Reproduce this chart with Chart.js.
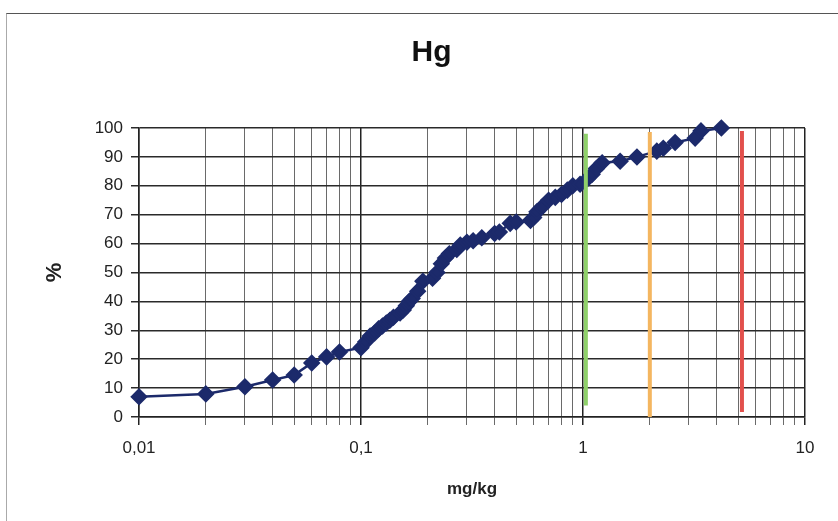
<!DOCTYPE html>
<html>
<head>
<meta charset="utf-8">
<script src="https://cdn.jsdelivr.net/npm/chart.js@4.4.1/dist/chart.umd.min.js"></script>
<style>
  html, body { margin: 0; padding: 0; background: #fff; }
  #wrap { position: relative; width: 838px; height: 521px; }
  #frame { position: absolute; left: 6px; top: 13px; width: 840px; height: 520px;
           border-top: 1.5px solid #555; border-left: 1px solid #aaa; pointer-events: none; }
  canvas { position: absolute; left: 0; top: 0; }
</style>
</head>
<body>
<div id="wrap">
  <canvas id="c" width="838" height="521"></canvas>
  <div id="frame"></div>
</div>
<script>
// Concentration (mg/kg) and cumulative percentage
const concentrations = [0.01, 0.02, 0.03, 0.04, 0.05, 0.06, 0.07, 0.08, 0.1,
  0.105, 0.11, 0.115, 0.12, 0.125, 0.13, 0.135, 0.14, 0.15, 0.155, 0.16, 0.165, 0.17, 0.18, 0.19,
  0.21, 0.22, 0.23, 0.24, 0.25, 0.27, 0.28, 0.3, 0.32, 0.35, 0.4, 0.42, 0.47, 0.5,
  0.58, 0.6, 0.62, 0.65, 0.7, 0.75, 0.8, 0.85, 0.9, 0.97, 1.05, 1.1, 1.15, 1.22,
  1.47, 1.75, 2.15, 2.3, 2.6, 3.2, 3.4, 4.2];
const cumulativePct = [7, 8, 10.5, 12.8, 14.5, 18.7, 20.8, 22.5, 24,
  26, 28, 29, 30.5, 31.5, 32.5, 33.5, 34.5, 36, 37, 38.5, 40, 41, 43.5, 47,
  48, 50, 53, 55, 56.5, 58, 59.5, 60.5, 61, 62, 63.5, 64, 67, 67.5,
  68, 69, 71, 72.5, 75, 76, 77, 78.5, 80, 80.5, 82.5, 84, 86, 88,
  88.5, 90, 92, 93, 95, 96.5, 99, 100];

// Vertical guideline values (mg/kg) and their extents (%)
const guideValues = [1.03, 2.0, 5.2];
const guideBottoms = [4, 0, 1.7];
const guideTops = [98, 98.6, 99];
const guideColors = ['#8fd06a', '#f4b660', '#e2504c'];

const xTickLabels = { '0.01': '0,01', '0.1': '0,1', '1': '1', '10': '10' };
const yTicks = [0, 10, 20, 30, 40, 50, 60, 70, 80, 90, 100];

const mainPoints = concentrations.map((c, i) => ({ x: c, y: cumulativePct[i] }));

const datasets = guideValues.map((v, i) => ({
  data: [{ x: v, y: guideBottoms[i] }, { x: v, y: guideTops[i] }],
  showLine: true, borderColor: guideColors[i], borderWidth: 4,
  pointRadius: 0, order: 0
}));
datasets.push({
  data: mainPoints, showLine: true, borderColor: '#1c2a6b', borderWidth: 2.5,
  backgroundColor: '#1c2a6b', pointStyle: 'rectRot', pointRadius: 7,
  pointBorderColor: '#1c2a6b', order: 1, clip: false
});

const font = 'Liberation Sans, Arial, sans-serif';

new Chart(document.getElementById('c'), {
  type: 'scatter',
  data: { datasets },
  options: {
    responsive: false, animation: false,
    layout: { padding: { left: 58, right: 33, top: 0, bottom: 0 } },
    plugins: {
      legend: { display: false },
      tooltip: { enabled: false },
      title: {
        display: true, text: 'Hg', color: '#111',
        font: { family: font, size: 30, weight: 'bold' },
        padding: { top: 35, bottom: 57 }
      }
    },
    scales: {
      x: {
        type: 'logarithmic', min: 0.01, max: 10,
        afterFit: s => { s.height = 104; },
        afterBuildTicks: s => {
          const t = [];
          [0.01, 0.1, 1].forEach(d => { for (let m = 1; m <= 9; m++) t.push({ value: +(m * d).toPrecision(3) }); });
          t.push({ value: 10 });
          s.ticks = t;
        },
        ticks: {
          autoSkip: false, maxRotation: 0, padding: 13, color: '#222',
          font: { family: font, size: 17 },
          callback: v => xTickLabels[String(v)] || ''
        },
        grid: {
          color: c => (xTickLabels[String(c.tick && c.tick.value)] ? '#222' : '#6a6a6a'),
          lineWidth: c => (xTickLabels[String(c.tick && c.tick.value)] ? 1.5 : 1),
          tickLength: 8, drawTicks: true
        },
        border: { color: '#222', width: 1.5 },
        title: {
          display: true, text: 'mg/kg', color: '#222',
          font: { family: font, size: 17, weight: 'bold' },
          padding: { top: 0, bottom: 21 }
        }
      },
      y: {
        min: 0, max: 100,
        afterFit: s => { s.width = 81; },
        afterBuildTicks: s => { s.ticks = yTicks.map(v => ({ value: v })); },
        ticks: { padding: 8, color: '#222', font: { family: font, size: 17 } },
        grid: { color: '#2a2a2a', lineWidth: 1.5, tickLength: 8 },
        border: { color: '#222', width: 1.5 },
        title: {
          display: true, text: '%', color: '#222',
          font: { family: font, size: 22, weight: 'bold' },
          padding: { top: -16, bottom: 0 }
        }
      }
    }
  }
});
</script>
</body>
</html>
